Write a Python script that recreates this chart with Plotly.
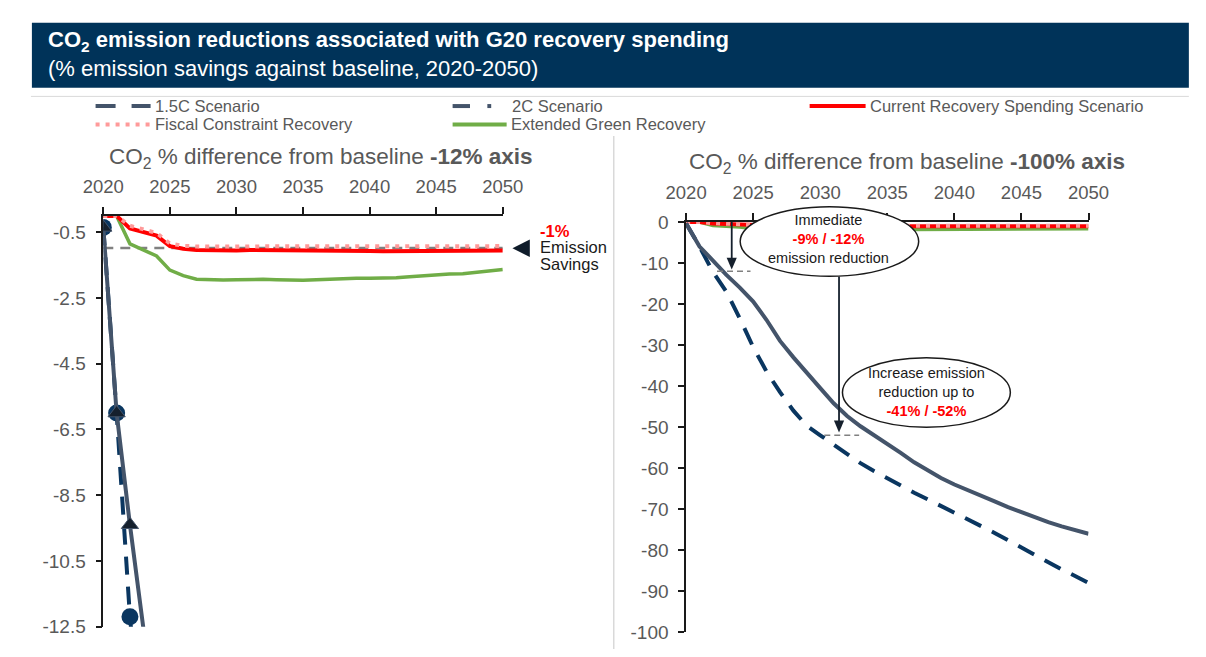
import plotly.graph_objects as go

# page is 1206x657; the browser keeps an 8px body margin, so the figure starts at (8, 8)
PAGE_W, PAGE_H = 1206, 657
OFF = 8
W, H = PAGE_W - OFF, PAGE_H - OFF

# ---- data ----
years = list(range(2020, 2051))

current_spending = [0.0, 0.0, -0.38, -0.50, -0.60, -0.92, -1.00, -1.04, -1.05, -1.05, -1.05,
                    -1.04, -1.04, -1.04, -1.05, -1.05, -1.04, -1.04, -1.05, -1.06, -1.07,
                    -1.08, -1.08, -1.07, -1.06, -1.06, -1.06, -1.06, -1.06, -1.05, -1.05]
fiscal_constraint = [0.0, 0.0, -0.30, -0.42, -0.52, -0.84, -0.91, -0.93, -0.93, -0.93, -0.92,
                     -0.92, -0.92, -0.92, -0.93, -0.93, -0.92, -0.92, -0.93, -0.93, -0.94,
                     -0.95, -0.95, -0.94, -0.94, -0.93, -0.93, -0.93, -0.93, -0.92, -0.92]
extended_green = [0.0, 0.0, -0.85, -1.05, -1.22, -1.65, -1.82, -1.93, -1.95, -1.95, -1.94,
                  -1.93, -1.93, -1.94, -1.95, -1.96, -1.94, -1.92, -1.91, -1.90, -1.90,
                  -1.90, -1.88, -1.85, -1.82, -1.79, -1.77, -1.76, -1.72, -1.68, -1.63]
scenario_2c = [-0.35, -6.0, -9.4, -12.9, -16.0, -19.4, -23.9, -29.0, -33.0, -36.6, -40.5,
               -44.2, -47.3, -49.8, -51.9, -54.2, -56.3, -58.6, -60.6, -62.4, -64.0,
               -65.3, -66.8, -68.1, -69.5, -70.8, -72.1, -73.2, -74.2, -75.1, -76.0]
scenario_15c = [-0.35, -6.0, -12.2, -17.0, -23.5, -30.5, -36.5, -41.5, -46.0, -49.7, -52.0,
                -54.2, -56.6, -58.8, -60.7, -62.5, -64.3, -66.0, -67.6, -69.2, -70.8,
                -72.5, -74.1, -75.8, -77.6, -79.4, -81.2, -83.0, -84.7, -86.3, -88.0]

saving_ref_years = [2020, 2050]
saving_ref_values = [-0.98, -0.98]

x_ticks = [2020, 2025, 2030, 2035, 2040, 2045, 2050]
left_ticks = [-0.5, -2.5, -4.5, -6.5, -8.5, -10.5, -12.5]
left_ticktext = ["-0.5", "-2.5", "-4.5", "-6.5", "-8.5", "-10.5", "-12.5"]
right_ticks = [0, -10, -20, -30, -40, -50, -60, -70, -80, -90, -100]
right_ticktext = ["0", "-10", "-20", "-30", "-40", "-50", "-60", "-70", "-80", "-90", "-100"]

# guide marks on the right chart
immediate_year, immediate_value = 2023.4, -12
later_year, later_value = 2031.4, -52

# ---- colours ----
NAVY = "#003359"
SLATE = "#44546a"
DASH_NAVY = "#0a3660"
RED = "#ff0000"
PINK = "#ff9a9a"
GREEN = "#70ad47"
GREY_TXT = "#595959"
ARROW = "#15202d"
FONT = "Liberation Sans, Arial, sans-serif"


def px(x):
    # page pixel -> paper fraction
    return (x - OFF) / W


def py(y):
    return 1 - (y - OFF) / H


fig = go.Figure()


def add_series(xa, ya, markers):
    fig.add_trace(go.Scatter(x=years, y=extended_green, mode="lines", xaxis=xa, yaxis=ya,
                             name="Extended Green Recovery", line=dict(color=GREEN, width=3.5)))
    fig.add_trace(go.Scatter(x=years, y=current_spending, mode="lines", xaxis=xa, yaxis=ya,
                             name="Current Recovery Spending Scenario",
                             line=dict(color=RED, width=4)))
    fig.add_trace(go.Scatter(x=years, y=fiscal_constraint, mode="lines", xaxis=xa, yaxis=ya,
                             name="Fiscal Constraint Recovery",
                             line=dict(color=PINK, width=4, dash="4px,6px")))
    fig.add_trace(go.Scatter(x=years, y=scenario_15c, mode="lines+markers" if markers else "lines",
                             xaxis=xa, yaxis=ya, name="1.5C Scenario",
                             line=dict(color=DASH_NAVY, width=4, dash="18px,12px"),
                             marker=dict(symbol="circle", size=17, color=DASH_NAVY)))
    fig.add_trace(go.Scatter(x=years, y=scenario_2c, mode="lines+markers" if markers else "lines",
                             xaxis=xa, yaxis=ya, name="2C Scenario",
                             line=dict(color=SLATE, width=4),
                             marker=dict(symbol="triangle-up", size=15, color="#15202d",
                                         line=dict(color=SLATE, width=1))))


# left chart: "-1%" reference dashed line
fig.add_trace(go.Scatter(x=saving_ref_years, y=saving_ref_values, mode="lines",
                         xaxis="x", yaxis="y", line=dict(color="#808080", width=2.5, dash="10px,7px")))
add_series("x", "y", True)
add_series("x2", "y2", False)

axis_font = dict(family=FONT, size=18.5, color=GREY_TXT)
common_x = dict(range=[2020, 2050], side="top", tickvals=x_ticks, ticks="outside", ticklen=7,
                tickcolor="#1a1a1a", tickwidth=1.5, showline=True, linecolor="#1a1a1a",
                linewidth=1.5, showgrid=False, zeroline=False, tickfont=axis_font,
                ticklabelstandoff=7, fixedrange=True)
common_y = dict(ticks="outside", ticklen=6, tickcolor="#1a1a1a", tickwidth=1.5, showline=True,
                linecolor="#1a1a1a", linewidth=1.5, showgrid=False, zeroline=False,
                tickfont=dict(family=FONT, size=19, color=GREY_TXT), ticklabelstandoff=6,
                fixedrange=True)

fig.update_layout(
    width=W, height=H, margin=dict(l=0, r=0, t=0, b=0),
    paper_bgcolor="white", plot_bgcolor="white", showlegend=False,
    font=dict(family=FONT, color=GREY_TXT),
    xaxis=dict(domain=[px(85), px(499)], anchor="y", **common_x),
    yaxis=dict(domain=[py(637), py(212.5)], anchor="x", range=[-12.5, 0],
               tickvals=left_ticks, ticktext=left_ticktext, layer="below traces", **common_y),
    xaxis2=dict(domain=[px(689), px(1106)], anchor="y2", **common_x),
    yaxis2=dict(domain=[py(642.7), py(218.8)], anchor="x2", range=[-100, 0],
                tickvals=right_ticks, ticktext=right_ticktext, **common_y),
)

shapes = []
# header band
shapes.append(dict(type="rect", xref="paper", yref="paper", x0=px(11), x1=px(1210),
                   y0=py(80), y1=py(13), fillcolor=NAVY, line=dict(width=0), layer="below"))
# legend top rule and panel separator
shapes.append(dict(type="line", xref="paper", yref="paper", x0=px(10), x1=px(1210),
                   y0=py(89), y1=py(89), line=dict(color="#d9d9d9", width=1)))
shapes.append(dict(type="line", xref="paper", yref="paper", x0=px(614), x1=px(614),
                   y0=py(130), y1=py(660), line=dict(color="#d9d9d9", width=1.5)))


# legend samples
def leg_line(x0, x1, y, color, dash="solid", width=4):
    shapes.append(dict(type="line", xref="paper", yref="paper", x0=px(x0), x1=px(x1),
                       y0=py(y), y1=py(y), line=dict(color=color, width=width, dash=dash)))


leg_line(77, 134, 99, SLATE, dash="20px,16px")
leg_line(447, 465, 99, SLATE)
leg_line(483, 487, 99, SLATE)
leg_line(817, 875, 99, RED)
leg_line(77, 133, 118, PINK, dash="4px,6px")
leg_line(447, 503, 118, GREEN)

# left chart: "-1%" pointer triangle
shapes.append(dict(type="path", xref="paper", yref="paper",
                   path=f"M {px(509)},{py(246)} L {px(527)},{py(237)} L {px(527)},{py(255)} Z",
                   fillcolor="#0f1c2a", line=dict(width=0)))

# right chart: guide dashes
shapes.append(dict(type="line", xref="x2", yref="y2", x0=2022.3, x1=2024.8,
                   y0=immediate_value, y1=immediate_value,
                   line=dict(color="#808080", width=1.5, dash="6px,4px")))
shapes.append(dict(type="line", xref="x2", yref="y2", x0=2030.3, x1=2032.9,
                   y0=later_value, y1=later_value,
                   line=dict(color="#808080", width=1.5, dash="6px,4px")))


# right chart: down arrows (shaft + head)
def down_arrow(xv, y_start, y_tip):
    shapes.append(dict(type="line", xref="x2", yref="y2", x0=xv, x1=xv, y0=y_start, y1=y_tip + 2.0,
                       line=dict(color=ARROW, width=1.8)))
    shapes.append(dict(type="path", xref="x2", yref="y2",
                       path=f"M {xv - 0.38},{y_tip + 2.9} L {xv + 0.38},{y_tip + 2.9} L {xv},{y_tip} Z",
                       fillcolor=ARROW, line=dict(width=0)))


down_arrow(immediate_year, 0, -11.6)
down_arrow(later_year, -13.3, -51.3)

# ellipses
shapes.append(dict(type="circle", xref="paper", yref="paper", x0=px(745), x1=px(930),
                   y0=py(275), y1=py(203), fillcolor="white",
                   line=dict(color="#1a1a1a", width=1.5), layer="above"))
shapes.append(dict(type="circle", xref="paper", yref="paper", x0=px(851), x1=px(1025),
                   y0=py(431), y1=py(359), fillcolor="white",
                   line=dict(color="#1a1a1a", width=1.5), layer="above"))

fig.update_layout(shapes=shapes)

ann = []


def text(x, y, s, size, color=GREY_TXT, anchor="left", bold=False, align=None):
    ann.append(dict(xref="paper", yref="paper", x=px(x), y=py(y), text=f"<b>{s}</b>" if bold else s,
                    showarrow=False, xanchor=anchor, yanchor="middle", align=align or anchor,
                    font=dict(family=FONT, size=size, color=color)))


# header (title + subtitle in one block)
text(26, 45, "<b>CO<sub>2</sub> emission reductions associated with G20 recovery spending</b><br>"
             "(% emission savings against baseline, 2020-2050)", 22, color="white")

# legend labels
text(136, 99, "1.5C Scenario", 16.5)
text(506, 99, "2C Scenario", 16.5)
text(878, 99, "Current Recovery Spending Scenario", 16.5)
text(136, 118, "Fiscal Constraint Recovery", 16.5)
text(505, 118, "Extended Green Recovery", 16.5)

# chart titles
text(311, 153, "CO<sub>2</sub> % difference from baseline <b>-12% axis</b>", 22.5, anchor="center")
text(918, 158, "CO<sub>2</sub> % difference from baseline <b>-100% axis</b>", 22.5, anchor="center")

# left chart callout
text(536, 228, "-1%", 16.5, color=RED, bold=True)
text(536, 245, "Emission", 16.5, color="#1a1a1a")
text(536, 262, "Savings", 16.5, color="#1a1a1a")

# ellipse texts
text(837, 236, "Immediate<br><b><span style='color:#ff0000'>-9% / -12%</span></b><br>emission reduction",
     14.5, color="#1a1a1a", anchor="center")
text(938, 395, "Increase emission<br>reduction up to<br><b><span style='color:#ff0000'>-41% / -52%</span></b>",
     14.5, color="#1a1a1a", anchor="center")

fig.update_layout(annotations=ann)

fig.write_html("out.html", config={"displayModeBar": False})
